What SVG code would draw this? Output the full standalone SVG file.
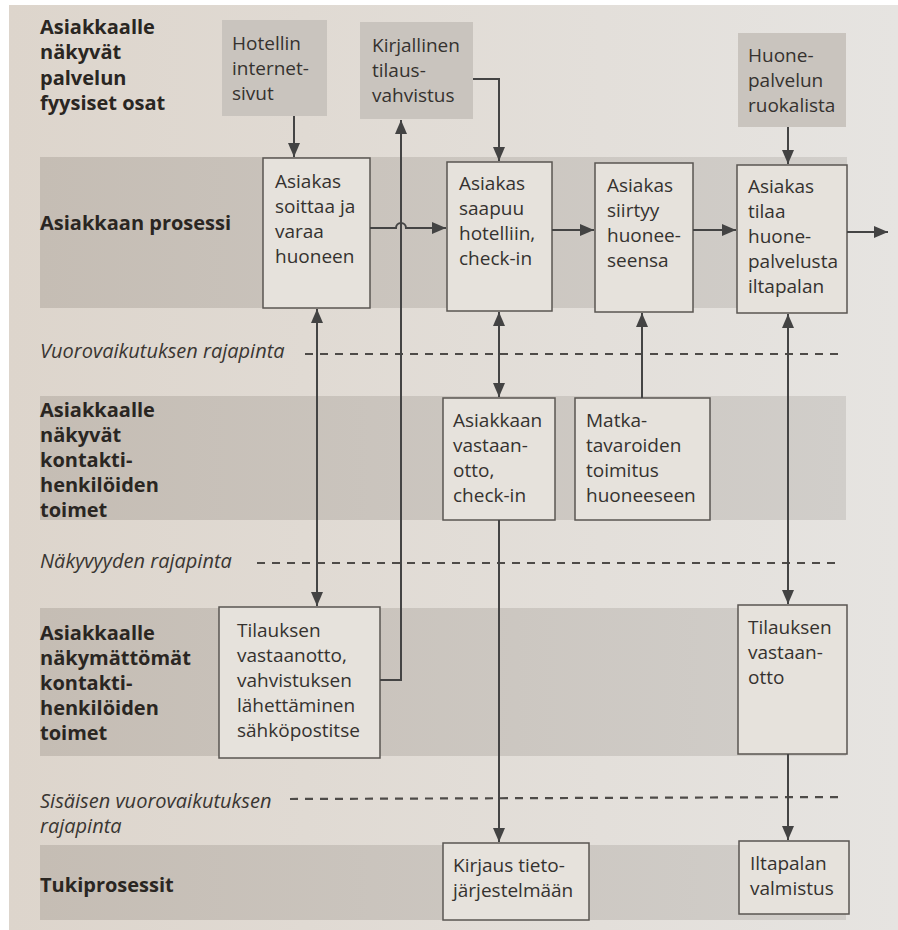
<svg xmlns="http://www.w3.org/2000/svg" width="898" height="930" viewBox="0 0 898 930">
  <defs>
    <linearGradient id="paper" x1="0" y1="0" x2="1" y2="0">
      <stop offset="0" stop-color="#ddd5cc"/>
      <stop offset="1" stop-color="#e6e4e1"/>
    </linearGradient>
    <linearGradient id="band" x1="0" y1="0" x2="1" y2="0">
      <stop offset="0" stop-color="#c5bdb4"/>
      <stop offset="1" stop-color="#d1ceca"/>
    </linearGradient>
    <marker id="ah" viewBox="0 0 14 12" refX="14" refY="6" markerWidth="14" markerHeight="12" markerUnits="userSpaceOnUse" orient="auto-start-reverse">
      <path d="M0,0 L14,6 L0,12 Z" fill="#434343"/>
    </marker>
  </defs>
  <style>
    .lane { font-family: "Open Sans", "Noto Sans", "Liberation Sans", sans-serif; font-weight: bold; font-size: 20px; fill: #2a2622; }
    .iface { font-family: "Open Sans", "Noto Sans", "Liberation Sans", sans-serif; font-style: italic; font-size: 20px; fill: #3a3632; }
    .txt { font-family: "Open Sans", "Noto Sans", "Liberation Sans", sans-serif; font-size: 19px; fill: #35322f; }
    .box { fill: #e6e2dc; stroke: #5a5652; stroke-width: 1.5; }
    .phys { fill: #c9c4be; }
    .dash { stroke: #4e4b48; stroke-width: 2.2; stroke-dasharray: 8 7; fill: none; }
    .conn { stroke: #444444; stroke-width: 2; fill: none; }
    .arr { marker-end: url(#ah); }
    .both { marker-start: url(#ah); marker-end: url(#ah); }
  </style>

  <!-- paper -->
  <rect width="898" height="930" fill="#ffffff"/>
  <rect x="9" y="5" width="889" height="925" fill="url(#paper)"/>

  <!-- swimlane bands -->
  <rect x="40" y="157" width="807" height="151" fill="url(#band)"/>
  <rect x="40" y="396" width="806" height="124" fill="url(#band)"/>
  <rect x="40" y="608" width="806" height="148" fill="url(#band)"/>
  <rect x="40" y="845" width="806" height="75" fill="url(#band)"/>

  <!-- lane titles -->
  <g id="lane-physical">
    <text class="lane" x="40" y="34">Asiakkaalle</text>
    <text class="lane" x="40" y="59">näkyvät</text>
    <text class="lane" x="40" y="85">palvelun</text>
    <text class="lane" x="40" y="110">fyysiset osat</text>
  </g>
  <g id="lane-customer">
    <text class="lane" x="40" y="230">Asiakkaan prosessi</text>
  </g>
  <g id="lane-visible">
    <text class="lane" x="40" y="417">Asiakkaalle</text>
    <text class="lane" x="40" y="442">näkyvät</text>
    <text class="lane" x="40" y="467">kontakti-</text>
    <text class="lane" x="40" y="492">henkilöiden</text>
    <text class="lane" x="40" y="517">toimet</text>
  </g>
  <g id="lane-invisible">
    <text class="lane" x="40" y="640">Asiakkaalle</text>
    <text class="lane" x="40" y="665">näkymättömät</text>
    <text class="lane" x="40" y="690">kontakti-</text>
    <text class="lane" x="40" y="715">henkilöiden</text>
    <text class="lane" x="40" y="740">toimet</text>
  </g>
  <g id="lane-support">
    <text class="lane" x="40" y="892">Tukiprosessit</text>
  </g>

  <!-- interface lines -->
  <g id="interfaces">
    <text class="iface" x="40" y="358">Vuorovaikutuksen rajapinta</text>
    <line class="dash" x1="305" y1="354" x2="845" y2="354"/>
    <text class="iface" x="40" y="568">Näkyvyyden rajapinta</text>
    <line class="dash" x1="257" y1="563" x2="842" y2="563"/>
    <text class="iface" x="40" y="808">Sisäisen vuorovaikutuksen</text>
    <text class="iface" x="40" y="833">rajapinta</text>
    <line class="dash" x1="290" y1="799" x2="845" y2="797"/>
  </g>

  <!-- physical evidence -->
  <g id="n-website">
    <rect class="phys" x="222" y="20" width="105" height="96"/>
    <text class="txt" x="232" y="50">Hotellin</text>
    <text class="txt" x="232" y="75">internet-</text>
    <text class="txt" x="232" y="100">sivut</text>
  </g>
  <g id="n-confirmation">
    <rect class="phys" x="360" y="22" width="113" height="97"/>
    <text class="txt" x="372" y="52">Kirjallinen</text>
    <text class="txt" x="372" y="77">tilaus-</text>
    <text class="txt" x="372" y="102">vahvistus</text>
  </g>
  <g id="n-menu">
    <rect class="phys" x="738" y="33" width="108" height="94"/>
    <text class="txt" x="748" y="62">Huone-</text>
    <text class="txt" x="748" y="87">palvelun</text>
    <text class="txt" x="748" y="112">ruokalista</text>
  </g>

  <!-- customer actions -->
  <g id="n-call">
    <rect class="box" x="263" y="158" width="107" height="150"/>
    <text class="txt" x="275" y="188">Asiakas</text>
    <text class="txt" x="275" y="213">soittaa ja</text>
    <text class="txt" x="275" y="238">varaa</text>
    <text class="txt" x="275" y="263">huoneen</text>
  </g>
  <g id="n-arrive">
    <rect class="box" x="447" y="162" width="105" height="149"/>
    <text class="txt" x="459" y="190">Asiakas</text>
    <text class="txt" x="459" y="215">saapuu</text>
    <text class="txt" x="459" y="240">hotelliin,</text>
    <text class="txt" x="459" y="265">check-in</text>
  </g>
  <g id="n-room">
    <rect class="box" x="595" y="163" width="98" height="149"/>
    <text class="txt" x="607" y="192">Asiakas</text>
    <text class="txt" x="607" y="217">siirtyy</text>
    <text class="txt" x="607" y="242">huonee-</text>
    <text class="txt" x="607" y="267">seensa</text>
  </g>
  <g id="n-order">
    <rect class="box" x="737" y="165" width="110" height="148"/>
    <text class="txt" x="748" y="193">Asiakas</text>
    <text class="txt" x="748" y="218">tilaa</text>
    <text class="txt" x="748" y="243">huone-</text>
    <text class="txt" x="748" y="268">palvelusta</text>
    <text class="txt" x="748" y="293">iltapalan</text>
  </g>

  <!-- onstage actions -->
  <g id="n-reception">
    <rect class="box" x="443" y="398" width="112" height="122"/>
    <text class="txt" x="453" y="427">Asiakkaan</text>
    <text class="txt" x="453" y="452">vastaan-</text>
    <text class="txt" x="453" y="477">otto,</text>
    <text class="txt" x="453" y="502">check-in</text>
  </g>
  <g id="n-luggage">
    <rect class="box" x="575" y="398" width="135" height="122"/>
    <text class="txt" x="586" y="427">Matka-</text>
    <text class="txt" x="586" y="452">tavaroiden</text>
    <text class="txt" x="586" y="477">toimitus</text>
    <text class="txt" x="586" y="502">huoneeseen</text>
  </g>

  <!-- backstage actions -->
  <g id="n-booking">
    <rect class="box" x="219" y="607" width="161" height="151"/>
    <text class="txt" x="237" y="637">Tilauksen</text>
    <text class="txt" x="237" y="662">vastaanotto,</text>
    <text class="txt" x="237" y="687">vahvistuksen</text>
    <text class="txt" x="237" y="712">lähettäminen</text>
    <text class="txt" x="237" y="737">sähköpostitse</text>
  </g>
  <g id="n-roomservice">
    <rect class="box" x="738" y="605" width="109" height="149"/>
    <text class="txt" x="748" y="634">Tilauksen</text>
    <text class="txt" x="748" y="659">vastaan-</text>
    <text class="txt" x="748" y="684">otto</text>
  </g>

  <!-- support processes -->
  <g id="n-record">
    <rect class="box" x="443" y="843" width="146" height="77"/>
    <text class="txt" x="453" y="872">Kirjaus tieto-</text>
    <text class="txt" x="453" y="897">järjestelmään</text>
  </g>
  <g id="n-supper">
    <rect class="box" x="739" y="841" width="110" height="73"/>
    <text class="txt" x="750" y="870">Iltapalan</text>
    <text class="txt" x="750" y="895">valmistus</text>
  </g>

  <!-- connectors -->
  <g id="connectors">
    <line class="conn arr" x1="294" y1="116" x2="294" y2="157"/>
    <path class="conn arr" d="M370,228 H396 A5,5 0 0 1 406,228 H446"/>
    <path class="conn arr" d="M473,79 H499 V161"/>
    <line class="conn arr" x1="552" y1="230" x2="594" y2="230"/>
    <line class="conn arr" x1="693" y1="230" x2="736" y2="230"/>
    <line class="conn arr" x1="847" y1="232" x2="888" y2="232"/>
    <line class="conn arr" x1="788" y1="127" x2="788" y2="164"/>
    <path class="conn arr" d="M380,680 H401 V120"/>
    <line class="conn both" x1="317" y1="309" x2="317" y2="606"/>
    <line class="conn both" x1="499" y1="312" x2="499" y2="397"/>
    <line class="conn arr" x1="642" y1="398" x2="642" y2="313"/>
    <line class="conn both" x1="788" y1="314" x2="788" y2="604"/>
    <line class="conn arr" x1="499" y1="520" x2="499" y2="842"/>
    <line class="conn arr" x1="788" y1="754" x2="788" y2="840"/>
  </g>
</svg>
